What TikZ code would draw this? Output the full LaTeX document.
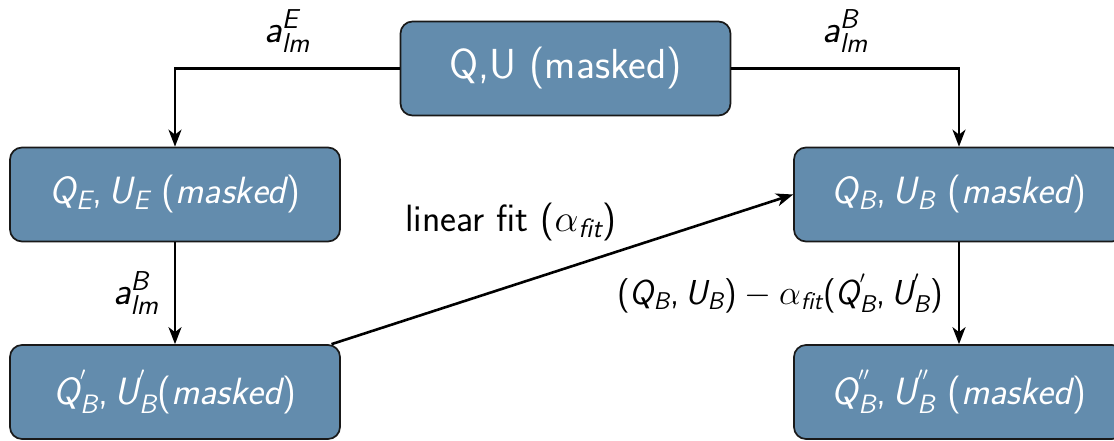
\RequirePackage{fix-cm}
\documentclass[tikz,border=0pt]{standalone}
\usetikzlibrary{arrows.meta}
\renewcommand\familydefault{\sfdefault}
% sans-serif math: oblique letters, upright punctuation
\DeclareMathAlphabet{\mathsfit}{TU}{lmss}{m}{sl}
\DeclareSymbolFont{sfup}{TU}{lmss}{m}{n}
\DeclareMathSymbol{(}{\mathopen}{sfup}{"28}
\DeclareMathSymbol{)}{\mathclose}{sfup}{"29}
\DeclareMathSymbol{,}{\mathpunct}{sfup}{"2C}
\definecolor{boxblue}{RGB}{99,140,173}
\begin{document}
\begin{tikzpicture}[x=0.5pt,y=-0.5pt,
  box/.style={rectangle, rounded corners=6pt, draw=black!90, line width=0.85pt,
    fill=boxblue, text=white, minimum width=165pt, minimum height=47pt,
    inner sep=0pt, font=\fontsize{19}{23}\selectfont},
  arr/.style={-{Stealth[length=8.5pt,width=6.5pt,inset=2.5pt]}, line width=1.3pt},
  lab/.style={font=\fontsize{17.3}{21}\selectfont, text=black},
  alab/.style={font=\fontsize{19.5}{23}\selectfont, text=black}]
\useasboundingbox (0,0) rectangle (1114,440);

\node[box] (qu) at (565.5,68.5) {\fontsize{21}{25}\selectfont Q,U (masked)};
\node[box] (qe) at (175,194.5) {$\mathsfit{Q_E, U_E\ (masked)}$};
\node[box] (qb) at (959,194.5) {$\mathsfit{Q_B, U_B\ (masked)}$};
\node[box] (qbp) at (175,392) {$\mathsfit{Q^{'}_B, U^{'}_B(masked)}$};
\node[box] (qbpp) at (959,392) {$\mathsfit{Q^{''}_B, U^{''}_B\ (masked)}$};

\draw[arr] (qu.west) -| node[alab, pos=0.25, above=4pt] {$\mathsfit{a^E_{lm}}$} (qe.north);
\draw[arr] (qu.east) -| node[alab, pos=0.25, above=4pt] {$\mathsfit{a^B_{lm}}$} (qb.north);
\draw[arr] (qe.south) -- node[alab, midway, left=4pt] {$\mathsfit{a^B_{lm}}$} (qbp.north);
\draw[arr] (qbp.17) -- node[lab, pos=0.635, above left=0pt]
  {\fontsize{19}{23}\selectfont linear fit ($\alpha_{\mathsfit{fit}}$)} (qb.west);
\draw[arr] (qb.south) -- node[lab, midway, left=4pt]
  {$\mathsfit{(Q_B, U_B)} - \alpha_{\mathsfit{fit}}\mathsfit{(Q^{'}_B, U^{'}_B)}$} (qbpp.north);
\end{tikzpicture}
\end{document}
